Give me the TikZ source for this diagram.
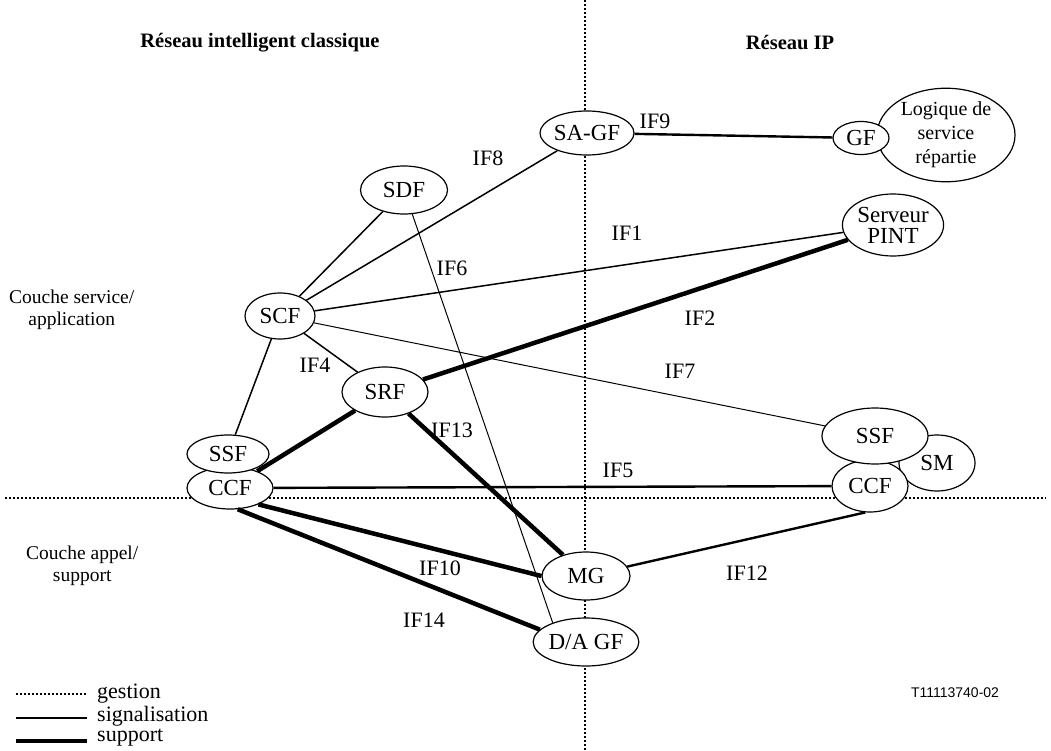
\documentclass[tikz,border=0pt]{standalone}
\usepackage{fontspec}
\setmainfont{Liberation Serif}
\newfontfamily\refsans{Liberation Sans}
\usetikzlibrary{shapes.geometric}

\tikzset{
  ell/.style={ellipse, draw, fill=white, inner sep=0pt, line width=1.2pt,
    font=\fontsize{23}{25}\selectfont},
  lab/.style={font=\fontsize{22}{24}\selectfont, inner sep=0pt},
  gestion/.style={line width=1.5pt, dash pattern=on 2pt off 2pt},
  thinsig/.style={line width=1pt},
  sig/.style={line width=1.5pt},
  sigb/.style={line width=2.4pt},
  supp/.style={line width=4.5pt},
}

\begin{document}
\begin{tikzpicture}[x=1pt, y=-1pt]
			%%%%% START %%%%%
			\useasboundingbox (0, 0) rectangle (1051, 751);

			% axes
			\coordinate (vtop) at (585, 0);
			\coordinate (vbot) at (585, 751);
			\coordinate (hleft) at (5, 498);
			\coordinate (hright) at (1046, 498);
			\draw[gestion] (vtop) -- (vbot);
			\draw[gestion] (hleft) -- (hright);

			% titles
			\node[lab, font=\fontsize{20.5}{24}\selectfont\bfseries] (titleir) at (260, 43) {Réseau intelligent classique};
			\node[lab, font=\fontsize{20.5}{24}\selectfont\bfseries] (titleip) at (790, 43) {Réseau IP};
			\node[lab, align=center, anchor=west, font=\fontsize{19.5}{22}\selectfont] (csvc) at (9, 310) {Couche service/\\application};
			\node[lab, align=center, anchor=west, font=\fontsize{19.5}{22}\selectfont] (capp) at (26, 566) {Couche appel/\\support};

			% nodes
			\node[ell, minimum width=138, minimum height=74, font=\fontsize{20}{24}\selectfont, align=center] (logic) at (946, 135) {Logique de\\service\\répartie};
			\node[ell, minimum width=56, minimum height=33] (gf) at (861, 138) {GF};
			\node[ell, minimum width=87, minimum height=44] (sagf) at (587, 133) {SA-GF};
			\node[ell, minimum width=87, minimum height=48] (sdf) at (404, 190) {SDF};
			\node[ell, minimum width=84, minimum height=62, align=center, font=\fontsize{23}{21}\selectfont] (pint) at (893, 225) {Serveur\\PINT};
			\node[ell, minimum width=70, minimum height=46] (scf) at (280, 316) {SCF};
			\node[ell, minimum width=86, minimum height=50] (srf) at (385, 392) {SRF};
			\node[ell, minimum width=86, minimum height=42] (ccfl) at (230, 488) {CCF};
			\node[ell, minimum width=82, minimum height=38] (ssfl) at (228, 454) {SSF};
			\node[ell, minimum width=76, minimum height=56] (sm) at (937, 463) {SM};
			\node[ell, minimum width=76, minimum height=52] (ccfr) at (870, 486) {CCF};
			\node[ell, minimum width=106, minimum height=56] (ssfr) at (875, 436) {SSF};
			\node[ell, minimum width=88, minimum height=48] (mg) at (586, 576) {MG};
			\node[ell, minimum width=88, minimum height=48] (dagf) at (586, 642) {D/A GF};

			% links
			\draw[sigb] (sagf) -- (gf);
			\draw[sig] (scf) -- (sagf);
			\draw[sig] (scf) -- (sdf);
			\draw[thinsig] (sdf) -- (dagf.150);
			\draw[sig] (scf) -- (pint);
			\draw[sig] (scf) -- (srf);
			\draw[thinsig] (scf) -- (ssfr);
			\draw[sig] (scf) -- (ssfl);
			\draw[supp] (srf) -- (pint);
			\draw[supp] (ccfl) -- (srf);
			\draw[supp] (srf) -- (mg);
			\draw[sigb] (ccfl) -- (ccfr);
			\draw[supp] (ccfl.-30) -- (mg.west);
			\draw[supp] (ccfl.-70) -- (dagf.165);
			\draw[sigb] (mg) -- (ccfr.260);

			% interface labels
			\node[lab] (if9) at (655, 121) {IF9};
			\node[lab] (if8) at (488, 158) {IF8};
			\node[lab] (if1) at (627, 233) {IF1};
			\node[lab] (if6) at (452, 268) {IF6};
			\node[lab] (if2) at (700, 318) {IF2};
			\node[lab] (if4) at (315, 365) {IF4};
			\node[lab] (if7) at (680, 371) {IF7};
			\node[lab] (if13) at (452, 430) {IF13};
			\node[lab] (if5) at (618, 470) {IF5};
			\node[lab] (if10) at (440, 568) {IF10};
			\node[lab] (if12) at (747, 573) {IF12};
			\node[lab] (if14) at (424, 620) {IF14};

			\node[font=\refsans\fontsize{14}{16}\selectfont, inner sep=0pt] (ref) at (955, 693) {T11113740-02};

			% legend
			\coordinate (lg1a) at (16, 694);
			\coordinate (lg1b) at (87, 694);
			\coordinate (lg2a) at (16, 718);
			\coordinate (lg2b) at (87, 718);
			\coordinate (lg3a) at (16, 741);
			\coordinate (lg3b) at (87, 741);
			\draw[gestion] (lg1a) -- (lg1b);
			\draw[sigb] (lg2a) -- (lg2b);
			\draw[supp] (lg3a) -- (lg3b);
			\node[lab, anchor=west] (lgt1) at (97, 694) {gestion};
			\node[lab, anchor=west] (lgt2) at (97, 716) {signalisation};
			\node[lab, anchor=west] (lgt3) at (97, 738) {support};
			%%%%% END %%%%%
\end{tikzpicture}
\end{document}
